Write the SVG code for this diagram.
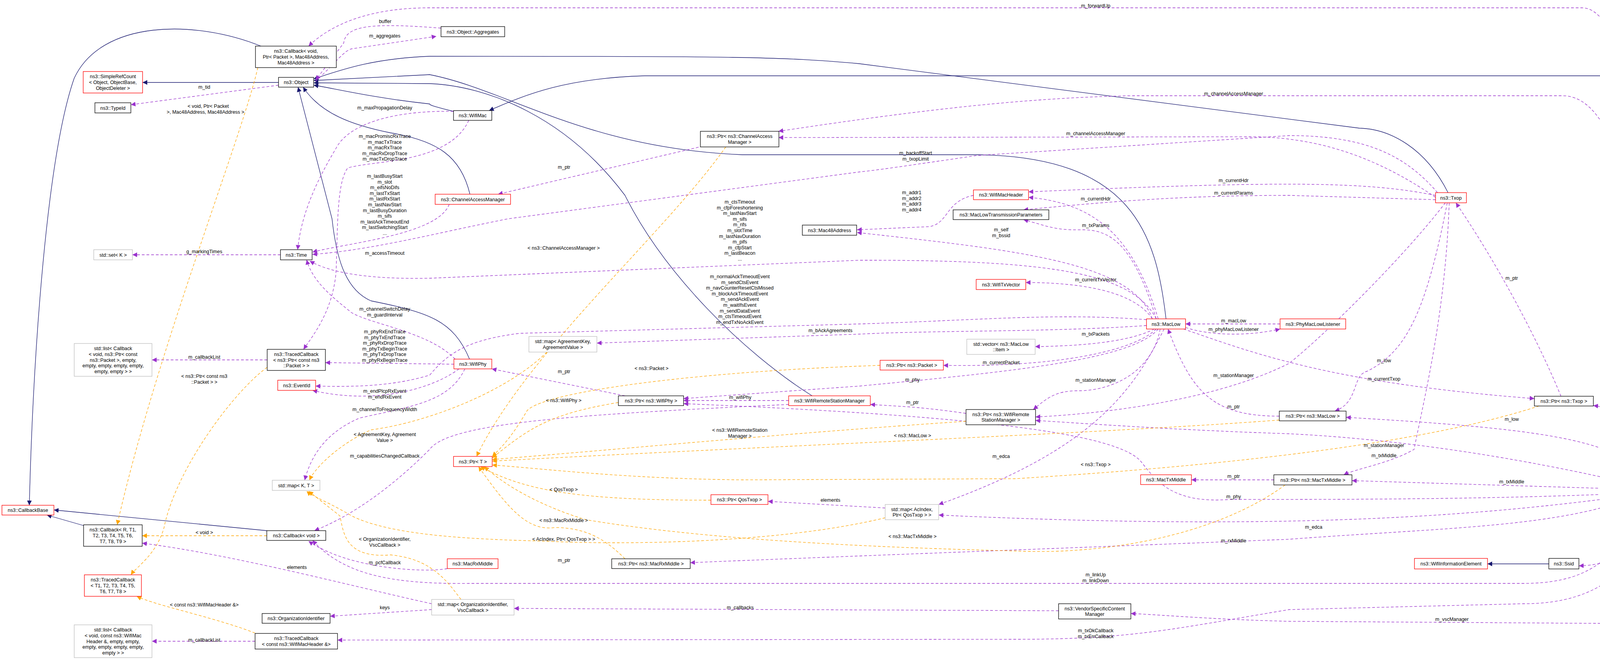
<svg xmlns="http://www.w3.org/2000/svg" width="4499" height="1689" viewBox="0 0 4499 1689">
<style>
text{font-family:"Liberation Sans",Arial,sans-serif;font-size:12.5px;fill:#000;text-anchor:middle}
.n rect{fill:#fff;stroke:#000;stroke-width:1.3}
.r rect{fill:#fff;stroke:#ff0000;stroke-width:1.3}
.g rect{fill:#fff;stroke:#bfbfbf;stroke-width:1.3}
.s rect{fill:#bfbfbf;stroke:#000;stroke-width:1.3}
.i{fill:none;stroke:#191970;stroke-width:1.3;marker-end:url(#an)}
.u{fill:none;stroke:#9a32cd;stroke-width:1.3;stroke-dasharray:7,5;marker-end:url(#ap)}
.t{fill:none;stroke:#ffa500;stroke-width:1.3;stroke-dasharray:7,5;marker-end:url(#ao)}
</style>
<defs>
<marker id="an" markerUnits="userSpaceOnUse" markerWidth="14" markerHeight="12" refX="12" refY="6" orient="auto"><path d="M0,0 L12,6 L0,12 z" fill="#191970"/></marker>
<marker id="ap" markerUnits="userSpaceOnUse" markerWidth="14" markerHeight="12" refX="12" refY="6" orient="auto"><path d="M0,0 L12,6 L0,12 z" fill="#9a32cd"/></marker>
<marker id="ao" markerUnits="userSpaceOnUse" markerWidth="14" markerHeight="12" refX="12" refY="6" orient="auto"><path d="M0,0 L12,6 L0,12 z" fill="#ffa500"/></marker>
</defs>
<rect width="4499" height="1689" fill="#fff"/>
<g id="edges">
<!-- inheritance -->
<path class="i" d="M713,211 L365,211"/>
<path class="i" d="M668,118 C500,50 260,50 190,200 C120,400 85,900 75,1293"/>
<path class="i" d="M3707,493 C3650,380 3560,330 3480,328 L2200,163 C2000,145 1900,144 1100,144 C950,150 870,180 803,202"/>
<path class="i" d="M4290,1241 C4260,700 4200,194 4100,194 L1650,194 C1450,200 1350,240 1252,283"/>
<path class="i" d="M2985,816 C2960,600 2900,400 2500,396 L1900,396 C1500,380 1300,230 1100,191 L803,206"/>
<path class="i" d="M2079,1013 C1900,900 1700,700 1600,500 C1450,300 1250,220 1100,214 L803,212"/>
<path class="i" d="M1161,285 C1100,270 1100,268 1100,266 C950,250 850,225 803,218"/>
<path class="i" d="M1203,497 C1180,400 1120,360 1000,340 C900,320 820,290 776,223"/>
<path class="i" d="M1202,919 C1160,820 1100,800 950,770 C880,740 860,650 850,560 L763,223"/>
<path class="i" d="M214,1345 L120,1318"/>
<path class="i" d="M683,1358 L138,1305"/>
<path class="i" d="M3965,1443 L3808,1443"/>
<path class="i" d="M4420,1490 L4263,1266"/>
<!-- usage -->
<path class="u" d="M4285,1241 C4250,700 4200,20 4050,20 L1100,20 C950,20 850,60 790,118"/>
<path class="u" d="M1129,72 C950,58 885,65 880,110 L808,205"/>
<path class="u" d="M808,208 C860,160 880,130 900,125 L1117,93"/>
<path class="u" d="M713,218 L335,268"/>
<path class="u" d="M1161,285 C1000,282 890,320 860,380 C800,480 770,560 762,639"/>
<path class="u" d="M1200,308 C1150,420 950,410 890,430 C860,470 865,600 860,700 C850,800 800,860 777,894"/>
<path class="u" d="M1150,523 C1120,600 900,620 800,645"/>
<path class="u" d="M2960,816 C2900,700 2700,665 2200,666 L1100,712 C950,715 850,700 793,668"/>
<path class="u" d="M3680,493 C3600,400 3500,347 3300,347 L2500,398 C2350,420 2250,435 2200,440 L1300,560 C1100,600 950,640 800,651"/>
<path class="u" d="M1800,374 L1275,497"/>
<path class="u" d="M4280,1241 C4220,600 4150,245 4000,245 L2900,245 C2600,250 2300,290 1993,336"/>
<path class="u" d="M3675,505 C3550,420 3400,350 3200,350 L1993,352"/>
<path class="u" d="M3675,500 C3500,465 3300,462 2633,491"/>
<path class="u" d="M3675,511 L3300,500 C3000,500 2800,520 2620,537"/>
<path class="u" d="M2965,816 C2900,600 2800,520 2633,505"/>
<path class="u" d="M2492,500 C2420,515 2430,570 2380,580 L2194,588"/>
<path class="u" d="M2960,816 C2900,620 2840,588 2770,588 C2700,590 2680,578 2620,562"/>
<path class="u" d="M2950,816 C2900,670 2600,640 2194,595"/>
<path class="u" d="M2950,816 C2900,740 2750,723 2626,723"/>
<path class="u" d="M2935,818 C2700,800 2500,820 2200,829 L1330,853 C1200,870 1150,900 1100,960 C1000,990 900,990 808,988"/>
<path class="u" d="M2935,833 C2700,850 2400,845 2200,855 L1528,878"/>
<path class="u" d="M3277,829 L3035,829"/>
<path class="u" d="M3035,838 C3100,860 3200,860 3277,842"/>
<path class="u" d="M2955,842 C2900,870 2800,885 2650,887"/>
<path class="u" d="M2960,842 C2900,900 2700,940 2415,935"/>
<path class="u" d="M2965,842 C2900,920 2600,950 2200,988 L1750,1020"/>
<path class="u" d="M2970,842 C2950,950 2850,1000 2760,1000 C2700,1000 2680,1020 2645,1048"/>
<path class="u" d="M3275,1065 C3100,1065 3050,1000 2990,842"/>
<path class="u" d="M2473,1058 C2350,1040 2300,1040 2228,1035"/>
<path class="u" d="M2019,1025 L1750,1025"/>
<path class="u" d="M1600,1013 L1259,944"/>
<path class="u" d="M3700,519 C3600,650 3400,850 3300,930 C3100,1030 2800,1060 2651,1067"/>
<path class="u" d="M4190,1241 C3800,1150 3500,1120 3300,1110 C3000,1100 2800,1085 2651,1076"/>
<path class="u" d="M3705,519 C3650,800 3600,900 3500,950 C3460,960 3480,1030 3417,1052"/>
<path class="u" d="M3030,842 C3200,900 3400,980 3928,1020"/>
<path class="u" d="M3996,1014 C3950,900 3850,700 3727,519"/>
<path class="u" d="M4250,1241 C4200,1100 4150,1045 4079,1038"/>
<path class="u" d="M4240,1241 C4150,1130 4000,1100 3446,1068"/>
<path class="u" d="M3710,519 C3700,800 3650,1000 3620,1150 C3560,1185 3470,1200 3440,1215"/>
<path class="u" d="M4175,1252 L3461,1230"/>
<path class="u" d="M3261,1228 L3050,1228"/>
<path class="u" d="M4175,1262 C3800,1280 3300,1278 3150,1278 C3000,1290 2960,1230 2920,1180 C2850,1100 2400,1060 1750,1033"/>
<path class="u" d="M2980,842 C2900,1000 2800,1150 2403,1291"/>
<path class="u" d="M4190,1266 C3800,1320 3300,1360 2403,1318"/>
<path class="u" d="M4200,1266 C4000,1350 3700,1350 3300,1380 C2800,1400 2000,1430 1767,1440"/>
<path class="u" d="M4220,1266 C4150,1400 4100,1493 3900,1493 L1200,1493 C1000,1495 880,1470 800,1383"/>
<path class="u" d="M1145,1455 C1100,1465 900,1460 790,1385"/>
<path class="u" d="M2019,1035 C1500,1060 1150,1080 1100,1150 C1000,1250 900,1320 805,1358"/>
<path class="u" d="M1105,1545 C900,1500 600,1420 364,1390"/>
<path class="u" d="M1105,1560 L845,1577"/>
<path class="u" d="M2710,1563 L1316,1557"/>
<path class="u" d="M4420,1515 C4380,1580 4300,1596 4200,1596 L3300,1590 C3100,1585 3000,1575 2895,1570"/>
<path class="u" d="M4262,1266 C4200,1400 4150,1445 4042,1448"/>
<path class="u" d="M4260,1266 C4200,1450 4100,1545 3900,1545 L3300,1560 C3000,1610 2900,1636 2600,1636 L864,1638"/>
<path class="u" d="M2266,1300 L1966,1283"/>
<path class="u" d="M684,921 L389,921"/>
<path class="u" d="M653,1641 L389,1641"/>
<path class="u" d="M718,652 L339,652"/>
<path class="u" d="M1165,919 C1100,850 950,830 900,800 C850,760 800,720 785,665"/>
<path class="u" d="M1162,932 L833,928"/>
<path class="u" d="M1175,944 C1100,1000 950,1035 800,999"/>
<path class="u" d="M1190,944 C1150,1030 1050,1040 920,1070 C850,1100 800,1150 780,1229"/>
<!-- template -->
<path class="t" d="M660,173 C620,350 400,900 300,1343"/>
<path class="t" d="M684,940 C600,1000 450,1200 420,1350 C400,1420 350,1450 335,1471"/>
<path class="t" d="M683,1371 L364,1371"/>
<path class="t" d="M653,1620 C550,1580 400,1550 350,1526"/>
<path class="t" d="M1858,376 C1700,600 1350,900 1220,1168"/>
<path class="t" d="M1400,901 C1300,1000 1100,1080 950,1100 C880,1130 810,1190 792,1229"/>
<path class="t" d="M2253,935 C1800,950 1400,1000 1350,1050 C1320,1100 1300,1130 1260,1168"/>
<path class="t" d="M1583,1030 C1400,1060 1350,1100 1260,1172"/>
<path class="t" d="M2473,1078 C2000,1110 1700,1140 1260,1176"/>
<path class="t" d="M3275,1075 C2800,1110 2000,1140 1260,1180"/>
<path class="t" d="M3940,1039 C3600,1150 3000,1200 2600,1225 L1900,1228 C1600,1225 1400,1200 1260,1190"/>
<path class="t" d="M1820,1280 C1500,1280 1350,1260 1230,1194"/>
<path class="t" d="M1600,1430 C1550,1380 1500,1350 1420,1350 C1350,1360 1300,1300 1225,1194"/>
<path class="t" d="M3290,1241 C3100,1380 2800,1420 2600,1410 C2200,1400 1800,1380 1500,1330 C1400,1300 1300,1250 1240,1194"/>
<path class="t" d="M2266,1325 C2000,1390 1600,1395 1400,1385 C1200,1380 1000,1370 900,1320 C850,1290 800,1270 785,1257"/>
<path class="t" d="M1180,1534 C1140,1480 1100,1430 1000,1420 C880,1430 880,1360 870,1320 L790,1257"/>
</g>
<g id="labels">
<text x="986" y="59">buffer</text>
<text x="985" y="96">m_aggregates</text>
<text x="523" y="227">m_tid</text>
<text x="533" y="276">&lt; void, Ptr&lt; Packet</text>
<text x="526" y="291">&gt;, Mac48Address, Mac48Address &gt;</text>
<text x="985" y="280">m_maxPropagationDelay</text>
<text x="985" y="353"><tspan x="985">m_macPromiscRxTrace</tspan><tspan x="985" dy="14.6">m_macTxTrace</tspan><tspan x="985" dy="14.6">m_macRxTrace</tspan><tspan x="985" dy="14.6">m_macRxDropTrace</tspan><tspan x="985" dy="14.6">m_macTxDropTrace</tspan></text>
<text x="985" y="455"><tspan x="985">m_lastBusyStart</tspan><tspan x="985" dy="14.6">m_slot</tspan><tspan x="985" dy="14.6">m_eifsNoDifs</tspan><tspan x="985" dy="14.6">m_lastTxStart</tspan><tspan x="985" dy="14.6">m_lastRxStart</tspan><tspan x="985" dy="14.6">m_lastNavStart</tspan><tspan x="985" dy="14.6">m_lastBusyDuration</tspan><tspan x="985" dy="14.6">m_sifs</tspan><tspan x="985" dy="14.6">m_lastAckTimeoutEnd</tspan><tspan x="985" dy="14.6">m_lastSwitchingStart</tspan><tspan x="985" dy="14.6">...</tspan></text>
<text x="523" y="648">g_markingTimes</text>
<text x="985" y="652">m_accessTimeout</text>
<text x="1444" y="432">m_ptr</text>
<text x="1894" y="521"><tspan x="1894">m_ctsTimeout</tspan><tspan x="1894" dy="14.6">m_cfpForeshortening</tspan><tspan x="1894" dy="14.6">m_lastNavStart</tspan><tspan x="1894" dy="14.6">m_sifs</tspan><tspan x="1894" dy="14.6">m_rifs</tspan><tspan x="1894" dy="14.6">m_slotTime</tspan><tspan x="1894" dy="14.6">m_lastNavDuration</tspan><tspan x="1894" dy="14.6">m_pifs</tspan><tspan x="1894" dy="14.6">m_cfpStart</tspan><tspan x="1894" dy="14.6">m_lastBeacon</tspan><tspan x="1894" dy="14.6">...</tspan></text>
<text x="1443" y="639">&lt; ns3::ChannelAccessManager &gt;</text>
<text x="1894" y="712"><tspan x="1894">m_normalAckTimeoutEvent</tspan><tspan x="1894" dy="14.6">m_sendCtsEvent</tspan><tspan x="1894" dy="14.6">m_navCounterResetCtsMissed</tspan><tspan x="1894" dy="14.6">m_blockAckTimeoutEvent</tspan><tspan x="1894" dy="14.6">m_sendAckEvent</tspan><tspan x="1894" dy="14.6">m_waitIfsEvent</tspan><tspan x="1894" dy="14.6">m_sendDataEvent</tspan><tspan x="1894" dy="14.6">m_ctsTimeoutEvent</tspan><tspan x="1894" dy="14.6">m_endTxNoAckEvent</tspan></text>
<text x="2126" y="850">m_bAckAgreements</text>
<text x="985" y="795"><tspan x="985">m_channelSwitchDelay</tspan><tspan x="985" dy="14.6">m_guardInterval</tspan></text>
<text x="985" y="853"><tspan x="985">m_phyRxEndTrace</tspan><tspan x="985" dy="14.6">m_phyTxEndTrace</tspan><tspan x="985" dy="14.6">m_phyRxDropTrace</tspan><tspan x="985" dy="14.6">m_phyTxBeginTrace</tspan><tspan x="985" dy="14.6">m_phyTxDropTrace</tspan><tspan x="985" dy="14.6">m_phyRxBeginTrace</tspan></text>
<text x="523" y="918">m_callbackList</text>
<text x="523" y="967"><tspan x="523">&lt; ns3::Ptr&lt; const ns3</tspan><tspan x="523" dy="14.6">::Packet &gt; &gt;</tspan></text>
<text x="985" y="1005"><tspan x="985">m_endPlcpRxEvent</tspan><tspan x="985" dy="14.6">m_endRxEvent</tspan></text>
<text x="985" y="1052">m_channelToFrequencyWidth</text>
<text x="985" y="1116"><tspan x="985">&lt; AgreementKey, Agreement</tspan><tspan x="985" dy="14.6">Value &gt;</tspan></text>
<text x="985" y="1171">m_capabilitiesChangedCallback</text>
<text x="1444" y="955">m_ptr</text>
<text x="1668" y="947">&lt; ns3::Packet &gt;</text>
<text x="1443" y="1029">&lt; ns3::WifiPhy &gt;</text>
<text x="1895" y="1021">m_wifiPhy</text>
<text x="1894" y="1105"><tspan x="1894">&lt; ns3::WifiRemoteStation</tspan><tspan x="1894" dy="14.6">Manager &gt;</tspan></text>
<text x="523" y="1367">&lt; void &gt;</text>
<text x="985" y="1384"><tspan x="985">&lt; OrganizationIdentifier,</tspan><tspan x="985" dy="14.6">VscCallback &gt;</tspan></text>
<text x="985" y="1444">m_pcfCallback</text>
<text x="760" y="1456">elements</text>
<text x="523" y="1552">&lt; const ns3::WifiMacHeader &amp;&gt;</text>
<text x="985" y="1559">keys</text>
<text x="523" y="1642">m_callbackList</text>
<text x="1443" y="1257">&lt; QosTxop &gt;</text>
<text x="2126" y="1284">elements</text>
<text x="1443" y="1336">&lt; ns3::MacRxMiddle &gt;</text>
<text x="1443" y="1384">&lt; AcIndex, Ptr&lt; QosTxop &gt; &gt;</text>
<text x="1444" y="1438">m_ptr</text>
<text x="1895" y="1559">m_callbacks</text>
<text x="2805" y="19">m_forwardUp</text>
<text x="3158" y="244">m_channelAccessManager</text>
<text x="2805" y="346">m_channelAccessManager</text>
<text x="2344" y="396"><tspan x="2344">m_backoffStart</tspan><tspan x="2344" dy="14.6">m_txopLimit</tspan></text>
<text x="3158" y="466">m_currentHdr</text>
<text x="3158" y="498">m_currentParams</text>
<text x="2805" y="513">m_currentHdr</text>
<text x="2334" y="497"><tspan x="2334">m_addr1</tspan><tspan x="2334" dy="14.6">m_addr2</tspan><tspan x="2334" dy="14.6">m_addr3</tspan><tspan x="2334" dy="14.6">m_addr4</tspan></text>
<text x="2805" y="581">m_txParams</text>
<text x="2563" y="592"><tspan x="2563">m_self</tspan><tspan x="2563" dy="14.6">m_bssid</tspan></text>
<text x="2805" y="720">m_currentTxVector</text>
<text x="3158" y="825">m_macLow</text>
<text x="3158" y="847">m_phyMacLowListener</text>
<text x="2805" y="859">m_txPackets</text>
<text x="2563" y="932">m_currentPacket</text>
<text x="2336" y="976">m_phy</text>
<text x="2805" y="977">m_stationManager</text>
<text x="3158" y="965">m_stationManager</text>
<text x="2336" y="1034">m_ptr</text>
<text x="3158" y="1045">m_ptr</text>
<text x="2336" y="1119">&lt; ns3::MacLow &gt;</text>
<text x="2563" y="1172">m_edca</text>
<text x="2805" y="1193">&lt; ns3::Txop &gt;</text>
<text x="3158" y="1223">m_ptr</text>
<text x="3158" y="1275">m_phy</text>
<text x="2336" y="1377">&lt; ns3::MacTxMiddle &gt;</text>
<text x="3158" y="1388">m_rxMiddle</text>
<text x="2805" y="1475"><tspan x="2805">m_linkUp</tspan><tspan x="2805" dy="14.6">m_linkDown</tspan></text>
<text x="2805" y="1618"><tspan x="2805">m_txOkCallback</tspan><tspan x="2805" dy="14.6">m_txErrCallback</tspan></text>
<text x="3870" y="716">m_ptr</text>
<text x="3543" y="927">m_low</text>
<text x="3543" y="974">m_currentTxop</text>
<text x="4130" y="1039">m_txop</text>
<text x="3870" y="1077">m_low</text>
<text x="3543" y="1144">m_stationManager</text>
<text x="3543" y="1170">m_txMiddle</text>
<text x="3870" y="1237">m_txMiddle</text>
<text x="3363" y="1353">m_edca</text>
<text x="4130" y="1422">m_ssid</text>
<text x="3717" y="1589">m_vscManager</text>
</g>
<g id="n1" class="n"><rect x="654" y="118" width="207" height="55"/><text x="757.5" y="135.4">ns3::Callback&lt; void,</text><text x="757.5" y="150">Ptr&lt; Packet &gt;, Mac48Address,</text><text x="757.5" y="164.6">Mac48Address &gt;</text></g>
<g id="n2" class="r"><rect x="213" y="183" width="152" height="55"/><text x="289" y="200.4">ns3::SimpleRefCount</text><text x="289" y="215">&lt; Object, ObjectBase,</text><text x="289" y="229.6">ObjectDeleter &gt;</text></g>
<g id="n3" class="n"><rect x="713" y="198" width="90" height="25"/><text x="758" y="215">ns3::Object</text></g>
<g id="n4" class="n"><rect x="243" y="263" width="92" height="26"/><text x="289" y="280.5">ns3::TypeId</text></g>
<g id="n5" class="n"><rect x="1129" y="68" width="163" height="26"/><text x="1210.5" y="85.5">ns3::Object::Aggregates</text></g>
<g id="n6" class="n"><rect x="1161" y="283" width="98" height="25"/><text x="1210" y="300">ns3::WifiMac</text></g>
<g id="n7" class="n"><rect x="1793" y="336" width="201" height="40"/><text x="1893.5" y="353.2">ns3::Ptr&lt; ns3::ChannelAccess</text><text x="1893.5" y="367.8">Manager &gt;</text></g>
<g id="n8" class="r"><rect x="1114" y="497" width="193" height="26"/><text x="1210.5" y="514.5">ns3::ChannelAccessManager</text></g>
<g id="n9" class="g"><rect x="240" y="639" width="99" height="26"/><text x="289.5" y="656.5">std::set&lt; K &gt;</text></g>
<g id="n10" class="n"><rect x="718" y="639" width="81" height="26"/><text x="758.5" y="656.5">ns3::Time</text></g>
<g id="n11" class="r"><rect x="2492" y="486" width="141" height="25"/><text x="2562.5" y="503">ns3::WifiMacHeader</text></g>
<g id="n12" class="n"><rect x="2440" y="537" width="245" height="25"/><text x="2562.5" y="554">ns3::MacLowTransmissionParameters</text></g>
<g id="n13" class="n"><rect x="2054" y="576" width="139" height="26"/><text x="2123.5" y="593.5">ns3::Mac48Address</text></g>
<g id="n14" class="r"><rect x="2499" y="715" width="127" height="26"/><text x="2562.5" y="732.5">ns3::WifiTxVector</text></g>
<g id="n15" class="r"><rect x="2935" y="816" width="100" height="26"/><text x="2985" y="833.5">ns3::MacLow</text></g>
<g id="n16" class="r"><rect x="3277" y="816" width="168" height="26"/><text x="3361" y="833.5">ns3::PhyMacLowListener</text></g>
<g id="n17" class="r"><rect x="3675" y="493" width="79" height="26"/><text x="3714.5" y="510.5">ns3::Txop</text></g>
<g id="n18" class="g"><rect x="1354" y="861" width="174" height="40"/><text x="1441" y="878.2">std::map&lt; AgreementKey,</text><text x="1441" y="892.8">AgreementValue &gt;</text></g>
<g id="n19" class="g"><rect x="2475" y="868" width="175" height="39"/><text x="2562.5" y="884.7">std::vector&lt; ns3::MacLow</text><text x="2562.5" y="899.3">::Item &gt;</text></g>
<g id="n20" class="g"><rect x="190" y="879" width="199" height="84"/><text x="289.5" y="896.3">std::list&lt; Callback</text><text x="289.5" y="910.9">&lt; void, ns3::Ptr&lt; const</text><text x="289.5" y="925.5">ns3::Packet &gt;, empty,</text><text x="289.5" y="940.1">empty, empty, empty, empty,</text><text x="289.5" y="954.7">empty, empty &gt; &gt;</text></g>
<g id="n21" class="n"><rect x="684" y="894" width="149" height="54"/><text x="758.5" y="910.9">ns3::TracedCallback</text><text x="758.5" y="925.5">&lt; ns3::Ptr&lt; const ns3</text><text x="758.5" y="940.1">::Packet &gt; &gt;</text></g>
<g id="n22" class="r"><rect x="1162" y="919" width="97" height="25"/><text x="1210.5" y="936">ns3::WifiPhy</text></g>
<g id="n23" class="r"><rect x="2253" y="922" width="162" height="25"/><text x="2334" y="939">ns3::Ptr&lt; ns3::Packet &gt;</text></g>
<g id="n24" class="r"><rect x="711" y="973" width="97" height="26"/><text x="759.5" y="990.5">ns3::EventId</text></g>
<g id="n25" class="n"><rect x="1583" y="1013" width="167" height="25"/><text x="1666.5" y="1030">ns3::Ptr&lt; ns3::WifiPhy &gt;</text></g>
<g id="n26" class="r"><rect x="2019" y="1013" width="209" height="25"/><text x="2123.5" y="1030">ns3::WifiRemoteStationManager</text></g>
<g id="n27" class="n"><rect x="2473" y="1048" width="178" height="39"/><text x="2562" y="1064.7">ns3::Ptr&lt; ns3::WifiRemote</text><text x="2562" y="1079.3">StationManager &gt;</text></g>
<g id="n28" class="n"><rect x="3928" y="1014" width="151" height="25"/><text x="4003.5" y="1031">ns3::Ptr&lt; ns3::Txop &gt;</text></g>
<g id="n29" class="n"><rect x="3275" y="1052" width="171" height="25"/><text x="3360.5" y="1069">ns3::Ptr&lt; ns3::MacLow &gt;</text></g>
<g id="n30" class="r"><rect x="1161" y="1168" width="99" height="26"/><text x="1210.5" y="1185.5">ns3::Ptr&lt; T &gt;</text></g>
<g id="n31" class="r"><rect x="2920" y="1215" width="130" height="25"/><text x="2985" y="1232">ns3::MacTxMiddle</text></g>
<g id="n32" class="n"><rect x="3261" y="1215" width="200" height="26"/><text x="3361" y="1232.5">ns3::Ptr&lt; ns3::MacTxMiddle &gt;</text></g>
<g id="n33" class="g"><rect x="697" y="1229" width="122" height="26"/><text x="758" y="1246.5">std::map&lt; K, T &gt;</text></g>
<g id="n34" class="n"><rect x="4175" y="1241" width="144" height="25"/><text x="4247" y="1258">ns3::RegularWifiMac</text></g>
<g id="n35" class="r"><rect x="1820" y="1266" width="146" height="25"/><text x="1893" y="1283">ns3::Ptr&lt; QosTxop &gt;</text></g>
<g id="n36" class="g"><rect x="2266" y="1291" width="137" height="39"/><text x="2334.5" y="1307.7">std::map&lt; AcIndex,</text><text x="2334.5" y="1322.3">Ptr&lt; QosTxop &gt; &gt;</text></g>
<g id="n37" class="r"><rect x="5" y="1293" width="133" height="25"/><text x="71.5" y="1310">ns3::CallbackBase</text></g>
<g id="n38" class="n"><rect x="214" y="1343" width="150" height="55"/><text x="289" y="1360.4">ns3::Callback&lt; R, T1,</text><text x="289" y="1375">T2, T3, T4, T5, T6,</text><text x="289" y="1389.6">T7, T8, T9 &gt;</text></g>
<g id="n39" class="n"><rect x="683" y="1358" width="151" height="25"/><text x="758.5" y="1375">ns3::Callback&lt; void &gt;</text></g>
<g id="n40" class="r"><rect x="3621" y="1429" width="187" height="27"/><text x="3714.5" y="1447">ns3::WifiInformationElement</text></g>
<g id="n41" class="n"><rect x="3965" y="1429" width="77" height="27"/><text x="4003.5" y="1447">ns3::Ssid</text></g>
<g id="n42" class="r"><rect x="1145" y="1430" width="130" height="25"/><text x="1210" y="1447">ns3::MacRxMiddle</text></g>
<g id="n43" class="n"><rect x="1566" y="1430" width="201" height="25"/><text x="1666.5" y="1447">ns3::Ptr&lt; ns3::MacRxMiddle &gt;</text></g>
<g id="n44" class="r"><rect x="216" y="1471" width="146" height="55"/><text x="289" y="1488.4">ns3::TracedCallback</text><text x="289" y="1503">&lt; T1, T2, T3, T4, T5,</text><text x="289" y="1517.6">T6, T7, T8 &gt;</text></g>
<g id="n45" class="s"><rect x="4370" y="1490" width="123" height="25"/><text x="4431.5" y="1507">ns3::OcbWifiMac</text></g>
<g id="n46" class="g"><rect x="1105" y="1534" width="211" height="40"/><text x="1210.5" y="1551.2">std::map&lt; OrganizationIdentifier,</text><text x="1210.5" y="1565.8">VscCallback &gt;</text></g>
<g id="n47" class="n"><rect x="2710" y="1545" width="185" height="39"/><text x="2802.5" y="1561.7">ns3::VendorSpecificContent</text><text x="2802.5" y="1576.3">Manager</text></g>
<g id="n48" class="n"><rect x="671" y="1570" width="174" height="25"/><text x="758" y="1587">ns3::OrganizationIdentifier</text></g>
<g id="n49" class="g"><rect x="190" y="1599" width="199" height="84"/><text x="289.5" y="1616.3">std::list&lt; Callback</text><text x="289.5" y="1630.9">&lt; void, const ns3::WifiMac</text><text x="289.5" y="1645.5">Header &amp;, empty, empty,</text><text x="289.5" y="1660.1">empty, empty, empty, empty,</text><text x="289.5" y="1674.7">empty &gt; &gt;</text></g>
<g id="n50" class="n"><rect x="653" y="1621" width="211" height="40"/><text x="758.5" y="1638.2">ns3::TracedCallback</text><text x="758.5" y="1652.8">&lt; const ns3::WifiMacHeader &amp;&gt;</text></g>
</svg>
